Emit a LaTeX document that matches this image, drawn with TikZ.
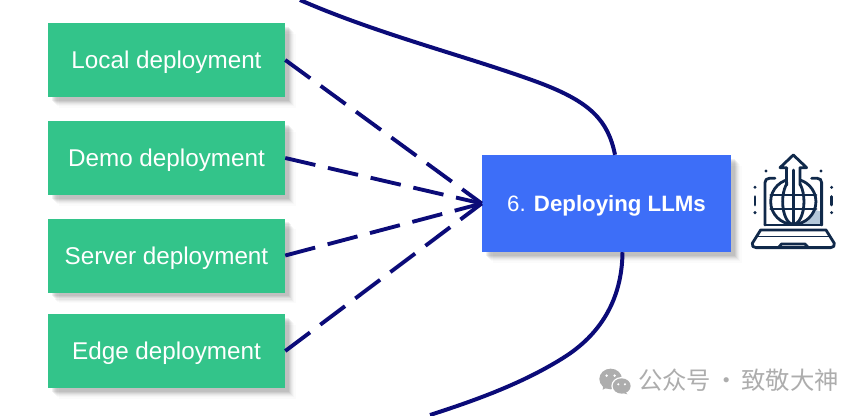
\documentclass[tikz,border=0pt]{standalone}
\usepackage{fontspec}
\setmainfont{Liberation Sans}
\newfontfamily\cjkfont{Noto Sans CJK SC}
\usetikzlibrary{shadows}
\definecolor{stepgreen}{HTML}{33C48A}
\definecolor{stepblue}{HTML}{3D6EF8}
\definecolor{linknavy}{HTML}{0B0B78}
\definecolor{icondark}{HTML}{10294A}
\definecolor{iconshade}{HTML}{B4C8DA}
\definecolor{markgray}{HTML}{ADADAD}
\tikzset{
	softshadow/.style={
		drop shadow={shadow xshift=9pt,shadow yshift=-9pt,opacity=0.015,fill=black},
		drop shadow={shadow xshift=8pt,shadow yshift=-8pt,opacity=0.02,fill=black},
		drop shadow={shadow xshift=7pt,shadow yshift=-7pt,opacity=0.03,fill=black},
		drop shadow={shadow xshift=6pt,shadow yshift=-6pt,opacity=0.04,fill=black},
		drop shadow={shadow xshift=5pt,shadow yshift=-5pt,opacity=0.05,fill=black},
		drop shadow={shadow xshift=4pt,shadow yshift=-4pt,opacity=0.06,fill=black},
		drop shadow={shadow xshift=3pt,shadow yshift=-3pt,opacity=0.06,fill=black}},
	subbox/.style={fill=stepgreen,text=white,minimum width=7.11cm,minimum height=2.22cm,
		inner sep=0pt,text depth=0pt,font=\fontsize{20.7}{24}\selectfont,softshadow},
	mainbox/.style={fill=stepblue,text=white,minimum width=7.47cm,minimum height=2.91cm,
		inner sep=0pt,text depth=0pt,font=\fontsize{19}{24}\selectfont,softshadow},
	dashlink/.style={linknavy,line width=3.3pt,dash pattern=on 26.4pt off 11pt},
	pathlink/.style={linknavy,line width=3.4pt},
	iconline/.style={icondark,line width=2.4pt,line join=round,line cap=round,x=0.01cm,y=-0.01cm}
}
\begin{document}
\begin{tikzpicture}[x=0.03cm,y=-0.03cm]
	\useasboundingbox (0,0) rectangle (865,415);
	% boxes
	\node[subbox] (local) at (166.5,60) {Local deployment};
	\node[subbox] (demo) at (166.5,158) {Demo deployment};
	\node[subbox] (server) at (166.5,255.5) {Server deployment};
	\node[subbox] (edge) at (166.5,351) {Edge deployment};
	\node[mainbox] (deploy) at (606.5,203.5) {6. \textbf{Deploying LLMs}};
	% dashed links
	\foreach \name in {local,demo,server,edge}
		\draw[dashlink] (\name.east) -- (deploy.west);
	% long curves
	\coordinate (upin) at (300,0);
	\coordinate (downin) at (430,415);
	\draw[pathlink] (upin) .. controls (380,35) and (470,57) .. (540,83) .. controls (590,102) and (608,120) .. ([xshift=0.255cm]deploy.north);
	\draw[pathlink] (downin) .. controls (470,402) and (520,385) .. (563,358) .. controls (600,335) and (622,300) .. ([xshift=0.48cm]deploy.south);
	% laptop icon
	\begin{scope}[shift={(740,145)},iconline]
		\fill[iconshade] (225,195) -- (245,200) -- (245,240) -- (85,240) -- (130,238) .. controls (180,240) and (215,225) .. (225,195) -- cycle;
		\draw (105,100) -- (88,100) .. controls (80,100) and (75,105) .. (75,113) -- (75,240);
		\draw (215,100) -- (232,100) .. controls (240,100) and (245,105) .. (245,113) -- (245,240);
		\draw (75,240) -- (245,240);
		\draw[fill=white] (160,170) circle [x radius=68,y radius=68];
		\draw (160,170) circle [x radius=32,y radius=68];
		\draw (92,150) -- (228,150) (92,192) -- (228,192) (160,102) -- (160,238);
		\draw[fill=white] (140,120) -- (140,68) -- (120,68) -- (160,30) -- (200,68) -- (180,68) -- (180,120);
		\fill[white] (145,112) rectangle (175,72);
		\draw (160,75) -- (160,125);
		\draw (62,255) -- (258,255) -- (283,295) .. controls (285,303) and (280,308) .. (272,308) -- (48,308) .. controls (40,308) and (35,303) .. (37,295) -- cycle;
		\draw[line width=1.4pt] (52,275) -- (268,275);
		\draw (115,308) -- (125,297) -- (195,297) -- (205,308);
		\foreach \dotx/\doty in {78/78,243/78,45/127,275/127,45/203,275/203}
			\fill (\dotx,\doty) circle [radius=5];
		\draw (45,155) -- (45,180) (275,155) -- (275,180);
	\end{scope}
	% watermark
	\begin{scope}[shift={(590,355)},x=0.01cm,y=-0.01cm]
		\fill[markgray] (62,72) circle [x radius=34,y radius=31];
		\fill[markgray] (40,92) -- (38,104) -- (56,96) -- cycle;
		\fill[white] (95,93) circle [x radius=31,y radius=27];
		\fill[markgray] (95,93) circle [x radius=27,y radius=23];
		\fill[markgray] (106,110) -- (112,118) -- (92,112) -- cycle;
		\fill[white] (50,62) circle [radius=4] (74,62) circle [radius=4] (85,88) circle [radius=3.5] (105,88) circle [radius=3.5];
	\end{scope}
	\node[anchor=west,inner sep=0pt,text=markgray,font=\cjkfont\fontsize{20.8}{24}\selectfont] (mark) at (638,380) {公众号\hspace{2.5pt}·\hspace{2.5pt}致敬大神};
\end{tikzpicture}
\end{document}
